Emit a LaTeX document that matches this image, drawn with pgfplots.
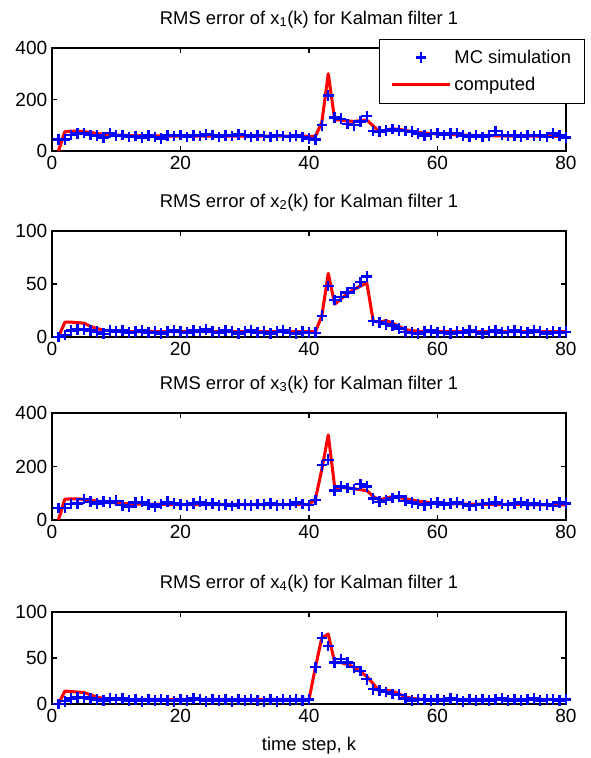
\documentclass[border=0pt]{standalone}
\usepackage{fontspec}
\setmainfont{Liberation Sans}
\usepackage{pgfplots}
\usepackage{pgfplotstable}
\pgfplotsset{compat=1.18}

\pgfplotstableread{
k mc1 c1 mc2 c2 mc3 c3 mc4 c4
1 45 0 0 0 45 0 0 0
2 45 75 2 14 45 78 3 14
3 62 77 6 14 60 79 6 13.5
4 68 77 7 13.5 62 79 7 13
5 70 75 7 13 78 77 7 12.5
6 62 72 6 10 68 74 6 10
7 60 68 5 8 62 71 5 7.5
8 52 65 3 6.5 70 68 4 6
9 70 63 6 6 65 66 6 5.5
10 60 62 5 5.5 72 64 5 5
11 62 61 6 5 55 62 6 5
12 55 60 4 5 50 61 4 5
13 58 60 5 5 65 60 5 5
14 52 59 6 5 68 59 3 5
15 60 59 4 5 58 59 5 5
16 55 59 5 5 50 59 4 5
17 48 58 3 5 60 59 5 5
18 60 58 5 5 68 58 4 5
19 58 58 6 5 62 58 3 5
20 62 58 5 5 58 58 5 5
21 55 58 4 5 55 58 4 5
22 60 58 6 5 62 58 6 5
23 58 58 5 5 68 58 5 5
24 65 58 7 5 58 58 3 5
25 62 58 5 5 62 58 5 5
26 55 58 4 5 55 58 4 5
27 60 58 6 5 58 58 5 5
28 58 58 5 5 52 58 3 5
29 65 58 3 5 60 58 5 5
30 62 58 5 5 58 58 4 5
31 55 58 6 5 55 58 5 5
32 60 58 4 5 60 58 4 5
33 58 58 5 5 58 58 3 5
34 55 58 3 5 62 58 5 5
35 60 58 5 5 55 58 3 5
36 58 58 6 5 60 58 5 5
37 55 58 4 5 58 58 4 5
38 60 58 3 5 65 58 5 5
39 55 58 5 5 60 58 4 5
40 48 57 4 5 55 58 5 5
41 45 57 4 5 75 78 40 40
42 100 112 20 20 205 190 72 72
43 215 300 48 60 225 318 63 76
44 130 122 35 31 110 122 45 45
45 125 120 38 36 125 122 49 45
46 105 117 42 41 120 120 45 43
47 100 115 46 45 115 117 40 40
48 115 118 52 48 135 113 36 35
49 135 120 57 51 125 110 27 30
50 78 97 15 15 80 88 16 22
51 75 75 14 14 68 75 15 13
52 80 82 12 15.5 75 82 13 15
53 85 86 11 13 82 87 11 14
54 80 84 8 10 88 84 10 11
55 78 80 5 7 72 80 6 8
56 75 76 4 6 65 75 4 6
57 68 72 3 5.5 60 70 5 5.5
58 60 70 5 5 55 67 5 5
59 65 68 6 5 62 65 4 5
60 70 66 4 5 65 63 5 5
61 62 65 5 5 58 62 4 5
62 68 64 3 5 62 61 6 5
63 70 63 5 5 65 60 5 5
64 60 62 4 5 60 60 3 5
65 55 61 6 5 52 59 5 5
66 62 60 5 5 55 59 4 5
67 55 60 3 5 60 59 5 5
68 60 59 5 5 62 58 4 5
69 78 59 6 5 68 58 5 5
70 62 59 4 5 60 58 6 5
71 58 58 5 5 55 58 4 5
72 60 58 6 5 62 58 5 5
73 55 58 5 5 65 58 4 5
74 62 58 4 5 58 57 5 5
75 58 58 6 5 62 57 6 5
76 60 57 5 5 55 57 4 5
77 55 57 3 5 58 57 5 5
78 68 57 5 5 52 57 5 5
79 60 57 4 5 65 57 4 5
80 52 57 5 5 62 57 5 5
}\datatable

\newcommand{\mlfont}{\fontsize{13.8}{16}\selectfont}
\newcommand{\tkfont}{\fontsize{14.3}{16}\selectfont}

\pgfplotsset{
  rms/.style={
    scale only axis, width=385.5pt,
    xmin=0, xmax=80, xtick={0,20,40,60,80},
    tick align=inside, major tick length=3.75pt,
    axis line style={line width=0.8pt},
    every tick/.style={black, line width=0.8pt},
    tick label style={font=\tkfont},
    /pgf/number format/assume math mode=true,
    every axis title/.style={at={(0.5,1)}, anchor=base, yshift=18pt, font=\mlfont},
    anchor=north west,
  },
  mcstyle/.style={only marks, mark=+, mark size=4pt, blue, mark options={line width=1.8pt},
    legend image code/.code={\draw[mark repeat=2,mark phase=2,##1] plot coordinates {(0pt,0pt) (22pt,0pt) (44pt,0pt)};}},
  cstyle/.style={red, line width=2.3pt, no marks, line join=round,
    legend image code/.code={\draw[##1] (0pt,0pt) -- (44pt,0pt);}},
}

\begin{document}
\begin{tikzpicture}
\useasboundingbox (0pt,0pt) rectangle (443.25pt,-568.5pt);

\begin{axis}[rms, at={(39pt,-36pt)}, height=77.25pt,
  ymin=0, ymax=400, ytick={0,200,400},
  title={RMS error of x\textsubscript{1}(k) for Kalman filter 1},
  legend style={at={(0.636,1.09)}, anchor=north west, draw=black, line width=0.75pt,
    font=\mlfont, fill=white, inner xsep=8pt, inner ysep=6pt, /tikz/row sep=5pt,
    /tikz/every even column/.append style={column sep=5pt}},
  legend cell align=left]
\addplot[mcstyle] table[x=k, y=mc1] {\datatable};
\addlegendentry{MC simulation}
\addplot[cstyle] table[x=k, y=c1] {\datatable};
\addlegendentry{computed}
\end{axis}

\begin{axis}[rms, at={(39pt,-173.25pt)}, height=79.5pt,
  ymin=0, ymax=100, ytick={0,50,100},
  title={RMS error of x\textsubscript{2}(k) for Kalman filter 1}]
\addplot[mcstyle] table[x=k, y=mc2] {\datatable};
\addplot[cstyle] table[x=k, y=c2] {\datatable};
\end{axis}

\begin{axis}[rms, at={(39pt,-309.75pt)}, height=80.25pt,
  ymin=0, ymax=400, ytick={0,200,400},
  title={RMS error of x\textsubscript{3}(k) for Kalman filter 1}]
\addplot[mcstyle] table[x=k, y=mc3] {\datatable};
\addplot[cstyle] table[x=k, y=c3] {\datatable};
\end{axis}

\begin{axis}[rms, at={(39pt,-459pt)}, height=69pt,
  ymin=0, ymax=100, ytick={0,50,100},
  title={RMS error of x\textsubscript{4}(k) for Kalman filter 1},
  xlabel={time step, k},
  xlabel style={at={(axis description cs:0.5,0)}, anchor=base, yshift=-34.5pt, font=\mlfont}]
\addplot[mcstyle] table[x=k, y=mc4] {\datatable};
\addplot[cstyle] table[x=k, y=c4] {\datatable};
\end{axis}
\end{tikzpicture}
\end{document}
